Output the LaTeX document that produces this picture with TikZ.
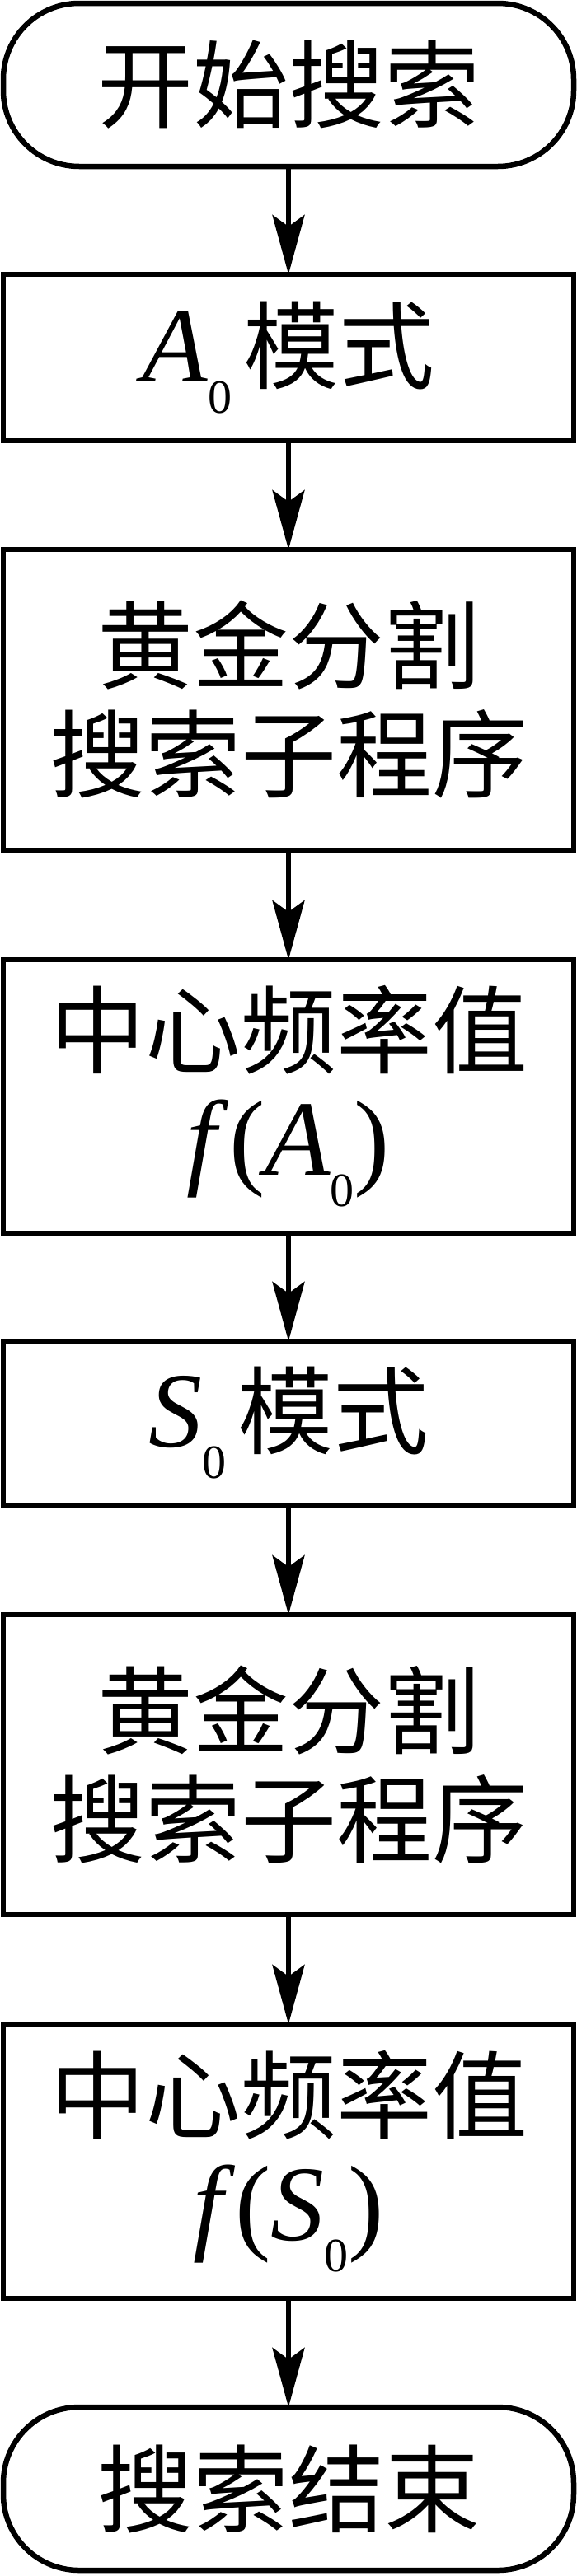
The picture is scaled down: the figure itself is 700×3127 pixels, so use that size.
\documentclass[tikz,border=0pt]{standalone}
\usepackage{fontspec}
\setmainfont{Liberation Serif}
\newfontfamily\cjk{Noto Sans CJK SC}
\usetikzlibrary{arrows.meta}
\newcommand{\subz}{\raisebox{-38pt}{\rmfamily\fontsize{58}{58}\selectfont 0}}
\newcommand{\lat}[1]{{\rmfamily\fontsize{130}{130}\selectfont #1}}
\begin{document}
\begin{tikzpicture}[x=1pt,y=-1pt,
  every node/.style={font=\cjk\fontsize{116}{132}\selectfont, align=center, inner sep=0pt, outer sep=0pt},
  procbox/.style={draw, line width=6.5pt, minimum width=692pt},
  termbox/.style={draw, line width=6.5pt, minimum width=692pt, minimum height=198pt, rounded corners=92pt},
  flow/.style={line width=6pt, -{Stealth[length=72pt, width=39pt, inset=14pt]}}
]
\useasboundingbox (0,0) rectangle (700,3127);
\node[termbox] (start) at (350,103) {开始搜索};
\node[procbox, minimum height=202pt] (a0) at (350,434) {\lat{\itshape A}\subz\kern14pt 模式};
\node[procbox, minimum height=365pt] (gs1) at (350,849.5) {黄金分割\\搜索子程序};
\node[procbox, minimum height=332pt] (fa) at (350,1331) {中心频率值\\\lat{\itshape f\/}\lat{(}\lat{\itshape A}\subz\lat{)}};
\node[procbox, minimum height=199pt] (s0) at (350,1727.5) {\lat{\itshape S}\subz\kern14pt 模式};
\node[procbox, minimum height=364pt] (gs2) at (350,2142) {黄金分割\\搜索子程序};
\node[procbox, minimum height=333pt] (fs) at (350,2623.5) {中心频率值\\\lat{\itshape f\/}\lat{(}\lat{\itshape S}\subz\lat{)}};
\node[termbox] (stop) at (350,3021) {搜索结束};
\foreach \a/\b in {start/a0, a0/gs1, gs1/fa, fa/s0, s0/gs2, gs2/fs, fs/stop}
  \draw[flow] (\a.south) -- (\b.north);
\end{tikzpicture}
\end{document}
